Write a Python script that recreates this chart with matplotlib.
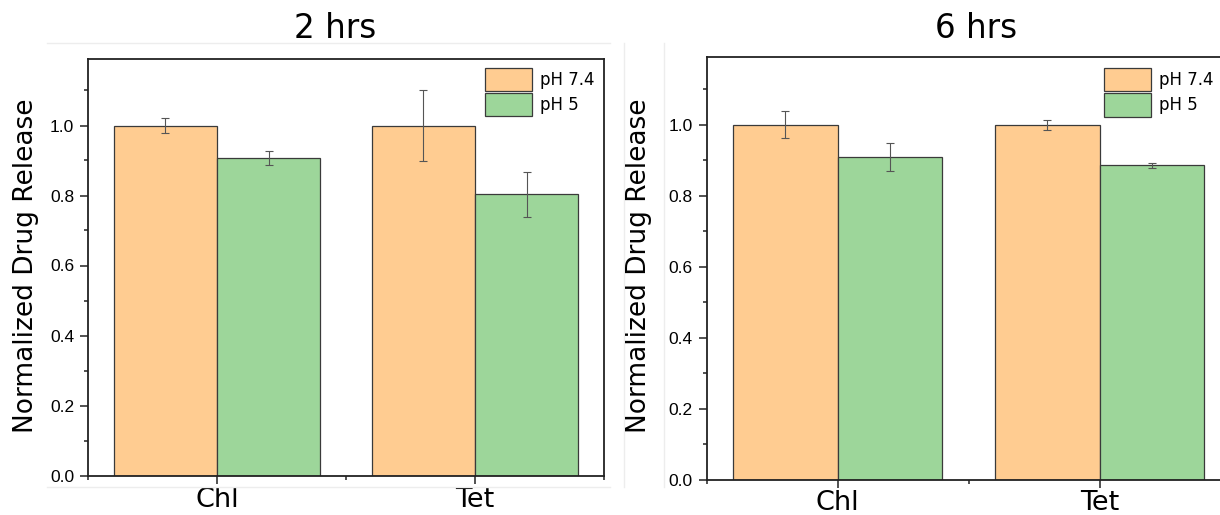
import numpy as np
import matplotlib
matplotlib.use("Agg")
import matplotlib.pyplot as plt
from matplotlib.lines import Line2D

# bar data (normalized to pH 7.4)
categories = ["Chl", "Tet"]
series_labels = ["pH 7.4", "pH 5"]

ph74_2h = [1.0, 1.0]
ph74_2h_err = [0.021, 0.101]
ph5_2h = [0.906, 0.803]
ph5_2h_err = [0.02, 0.063]

ph74_6h = [1.0, 1.0]
ph74_6h_err = [0.038, 0.014]
ph5_6h = [0.908, 0.885]
ph5_6h_err = [0.040, 0.008]

titles = ["2 hrs", "6 hrs"]

orange = "#FFCC91"
green = "#9DD69A"
edge = "#3a3a3a"
W, H = 1220, 515


def draw_panel(ax, v1, e1, v2, e2, xpad):
    x = np.arange(len(categories))
    w = 0.4
    b1 = ax.bar(x - w / 2, v1, w, yerr=e1, color=orange, edgecolor=edge,
                linewidth=0.9, label=series_labels[0],
                error_kw=dict(ecolor="#555555", elinewidth=0.8, capsize=3, capthick=0.8))
    b2 = ax.bar(x + w / 2, v2, w, yerr=e2, color=green, edgecolor=edge,
                linewidth=0.9, label=series_labels[1],
                error_kw=dict(ecolor="#555555", elinewidth=0.8, capsize=3, capthick=0.8))
    ax.set_xlim(-0.5, 1.5)
    ax.set_ylim(0, 1.19)
    ax.set_xticks(x)
    ax.set_xticklabels(categories, fontsize=19.5, family="DejaVu Sans")
    ax.set_xticks([-0.5, 0.5, 1.5], minor=True)
    ax.set_yticks(np.arange(0, 1.01, 0.2))
    ax.set_yticklabels(["%.1f" % t for t in np.arange(0, 1.01, 0.2)],
                       fontsize=12.5, family="Liberation Sans")
    ax.set_yticks(np.arange(0.1, 1.15, 0.2), minor=True)
    ax.tick_params(axis="both", which="major", direction="out", length=6,
                   width=1.1, color="#222222", pad=4)
    ax.tick_params(axis="both", which="minor", direction="out", length=3,
                   width=1.1, color="#222222")
    ax.tick_params(axis="x", which="major", pad=xpad)
    ax.tick_params(top=False, right=False, which="both")
    for s in ax.spines.values():
        s.set_linewidth(1.3)
        s.set_color("#222222")
    return b1, b2


fig = plt.figure(figsize=(W / 100, H / 100), dpi=100)

# faint page frame lines from the original graph pages
for xs, ys in [((47, 610), (43, 43)), ((47, 610), (487, 487)),
               ((624, 624), (43, 487)), ((664, 664), (43, 487))]:
    fig.add_artist(Line2D([xs[0] / W, xs[1] / W], [1 - ys[0] / H, 1 - ys[1] / H],
                          transform=fig.transFigure, color="#ededed", lw=1))

ax1 = fig.add_axes([88 / W, 1 - 475.5 / H, 516 / W, 416.5 / H])
ax2 = fig.add_axes([706.6 / W, 1 - 480 / H, 524 / W, 423 / H])

panels = [(ax1, ph74_2h, ph74_2h_err, ph5_2h, ph5_2h_err, 0.769, 0.978, 335, 26.5, 2.5),
          (ax2, ph74_6h, ph74_6h_err, ph5_6h, ph5_6h_err, 0.758, 0.973, 976, 639, 1.0)]

for i, (ax, v1, e1, v2, e2, lx, ly, tx, ylx, xpad) in enumerate(panels):
    b1, b2 = draw_panel(ax, v1, e1, v2, e2, xpad)
    ax.legend([b1, b2], series_labels, loc="upper left", bbox_to_anchor=(lx, ly),
              frameon=False, borderpad=0, borderaxespad=0, handlelength=2.85,
              handleheight=1.75, handletextpad=0.45, labelspacing=0.12,
              prop=dict(family="DejaVu Sans", size=12))
    fig.text(tx / W, 1 - 29 / H, titles[i], ha="center", va="center",
             fontsize=23.5, family="DejaVu Sans")
    fig.text(ylx / W, 1 - 265.5 / H, "Normalized Drug Release", rotation=90,
             ha="center", va="center", fontsize=19, family="DejaVu Sans")

fig.savefig("out.png", dpi=100)
